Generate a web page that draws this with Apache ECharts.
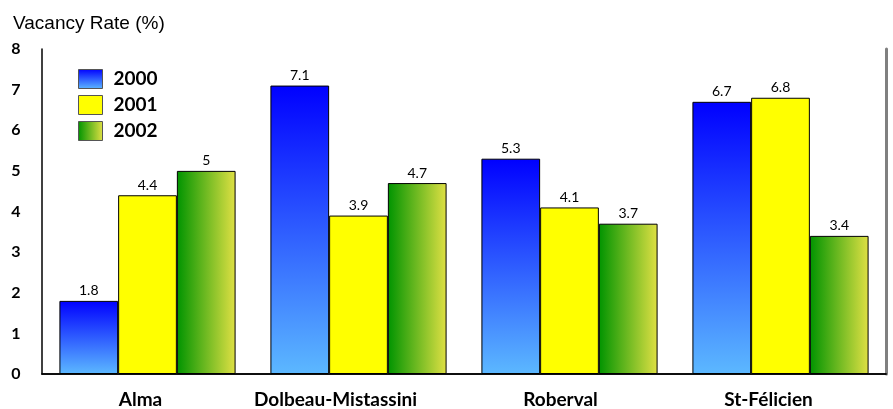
<!DOCTYPE html>
<html>
<head>
<meta charset="utf-8">
<script src="https://cdn.jsdelivr.net/npm/echarts@6/dist/echarts.min.js"></script>
<style>
  html, body { margin: 0; padding: 0; background: #fff; }
  #chart { width: 893px; height: 409px; }
</style>
</head>
<body>
<div id="chart"></div>
<script>
const cities = ['Alma', 'Dolbeau-Mistassini', 'Roberval', 'St-Félicien'];
const years = ['2000', '2001', '2002'];
const rate2000 = [1.8, 7.1, 5.3, 6.7];
const rate2001 = [4.4, 3.9, 4.1, 6.8];
const rate2002 = [5, 4.7, 3.7, 3.4];

// the original's category labels sit a little left of the bar groups
const labelShift = [7, 23, 9, 12];

const blueFill = new echarts.graphic.LinearGradient(0, 0, 0, 1, [
  {offset: 0, color: '#0000ff'},
  {offset: 1, color: '#5cb8ff'}
]);
const greenFill = new echarts.graphic.LinearGradient(0, 0, 1, 0, [
  {offset: 0, color: '#009400'},
  {offset: 1, color: '#e0e044'}
]);
const fills = [blueFill, '#ffff00', greenFill];
const values = [rate2000, rate2001, rate2002];

const chart = echarts.init(document.getElementById('chart'));

const series = years.map((name, i) => {
  return {
    name,
    type: 'bar',
    xAxisIndex: 0,
    yAxisIndex: 0,
    data: values[i],
    barGap: '0%',
    barCategoryGap: '16.5%',
    itemStyle: {
      color: fills[i],
      borderColor: '#000',
      borderWidth: 1
    },
    label: {
      show: true,
      position: 'top',
      distance: 3,
      fontFamily: 'Lato',
      fontSize: 14,
      color: '#000'
    }
  }
});

chart.setOption({
  animation: false,
  title: {
    text: 'Vacancy Rate (%)',
    left: 8,
    top: 9,
    textStyle: {
      fontFamily: 'Liberation Sans',
      fontWeight: 'normal',
      fontSize: 19,
      color: '#000'
    }
  },
  legend: {
    orient: 'vertical',
    left: 73,
    top: 64,
    itemWidth: 24,
    itemHeight: 19,
    itemGap: 6,
    selectedMode: false,
    data: years.map(y => ({name: y, icon: 'rect'})),
    itemStyle: {borderColor: '#555', borderWidth: 1},
    textStyle: {
      fontFamily: 'Lato',
      fontWeight: 'bold',
      fontSize: 19,
      color: '#000',
      padding: [0, 0, 0, 6]
    }
  },
  grid: {
    left: 42,
    right: 7,
    top: 49,
    bottom: 34,
    containLabel: false
  },
  xAxis: [
    {
      type: 'category',
      data: cities.map((c, i) => ({
        value: c,
        textStyle: {padding: [0, labelShift[i] * 2, 0, 0]}
      })),
      axisLine: {lineStyle: {color: '#000', width: 1.5}},
      axisTick: {show: false},
      axisLabel: {
        interval: 0,
        hideOverlap: false,
        margin: 16,
        fontFamily: 'Lato',
        fontWeight: 'bold',
        fontSize: 19,
        color: '#000'
      }
    },
    {
      type: 'category',
      position: 'top',
      data: cities,
      axisLine: {lineStyle: {color: '#000', width: 1.5}},
      axisTick: {show: false},
      axisLabel: {show: false}
    }
  ],
  yAxis: [
    {
      type: 'value',
      min: 0,
      max: 8,
      interval: 1,
      splitLine: {show: false},
      axisLine: {show: true, lineStyle: {color: '#000', width: 1.5}},
      axisTick: {show: false},
      axisLabel: {
        margin: 26,
        align: 'center',
        fontFamily: 'Lato',
        fontWeight: 'bold',
        fontSize: 16,
        color: '#000'
      }
    },
    {
      type: 'value',
      position: 'right',
      min: 0,
      max: 8,
      interval: 1,
      splitLine: {show: false},
      axisLine: {show: true, lineStyle: {color: '#808080', width: 3}},
      axisTick: {show: false},
      axisLabel: {show: false}
    }
  ],
  series
});
</script>
</body>
</html>
